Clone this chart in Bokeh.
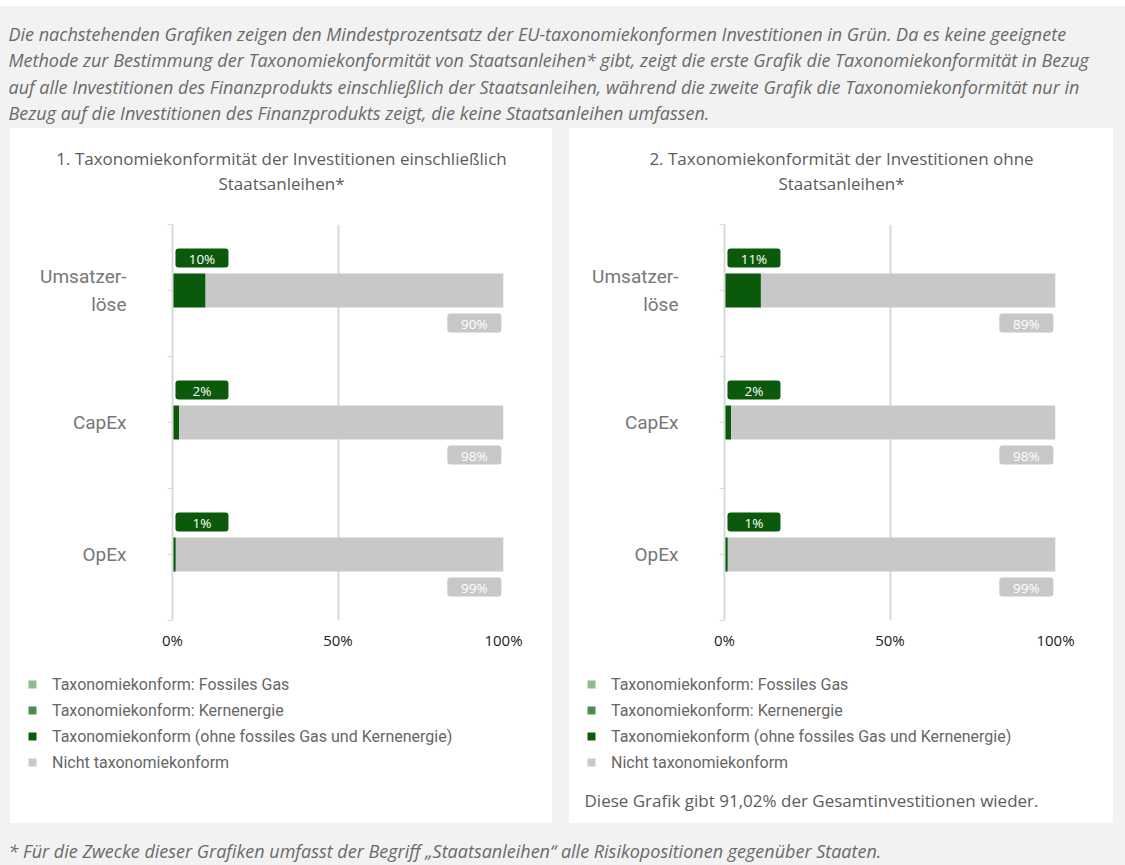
from bokeh.plotting import figure
from bokeh.models import (Range1d, FixedTicker, Label, Legend, LegendItem, ColumnDataSource, Spacer,
                          GlobalInlineStyleSheet)
from bokeh.layouts import column, row
from bokeh.embed import file_html
from bokeh.resources import INLINE
from bokeh.core.properties import value

# ---------------- data ----------------
categories = ["Umsatzerlöse", "CapEx", "OpEx"]
category_labels = ["Umsatzer-\nlöse", "CapEx", "OpEx"]

fossil_gas_1 = [0, 0, 0]
nuclear_1 = [0, 0, 0]
aligned_1 = [10, 2, 1]
not_aligned_1 = [90, 98, 99]

fossil_gas_2 = [0, 0, 0]
nuclear_2 = [0, 0, 0]
aligned_2 = [11, 2, 1]
not_aligned_2 = [89, 98, 99]

x_ticks = [0, 50, 100]
x_tick_labels = ["0%", "50%", "100%"]

legend_labels = [
    "Taxonomiekonform: Fossiles Gas",
    "Taxonomiekonform: Kernenergie",
    "Taxonomiekonform (ohne fossiles Gas und Kernenergie)",
    "Nicht taxonomiekonform",
]
title_1 = ["1. Taxonomiekonformität der Investitionen einschließlich", "Staatsanleihen*"]
title_2 = ["2. Taxonomiekonformität der Investitionen ohne", "Staatsanleihen*"]
coverage_note = "Diese Grafik gibt 91,02% der Gesamtinvestitionen wieder."

intro_lines = [
    "Die nachstehenden Grafiken zeigen den Mindestprozentsatz der EU-taxonomiekonformen Investitionen in Grün. Da es keine geeignete",
    "Methode zur Bestimmung der Taxonomiekonformität von Staatsanleihen* gibt, zeigt die erste Grafik die Taxonomiekonformität in Bezug",
    "auf alle Investitionen des Finanzprodukts einschließlich der Staatsanleihen, während die zweite Grafik die Taxonomiekonformität nur in",
    "Bezug auf die Investitionen des Finanzprodukts zeigt, die keine Staatsanleihen umfassen.",
]
footnote = "* Für die Zwecke dieser Grafiken umfasst der Begriff „Staatsanleihen“ alle Risikopositionen gegenüber Staaten."

# ---------------- style ----------------
FONT = "Roboto"
OFONT = "Open Sans"
GREEN = "#0b5a0b"
GAS = "#93b993"
NUC = "#4f8a4f"
GREY = "#c8c8c8"
BG = "#f2f2f2"
GRID = "#d9d9d9"

FRAME_W = 331
FRAME_H = 396
TITLE_H = 92
CHART_H = 448
LEGEND_H = 155
PANEL_W = [542, 544]
FRAME_LEFT = [162, 155]


def blank(width, height, fill):
    p = figure(width=width, height=height, output_backend="svg", toolbar_location=None,
               x_range=Range1d(0, 1), y_range=Range1d(0, 1), x_axis_location=None, y_axis_location=None,
               min_border=0, background_fill_color=fill, border_fill_color=fill, outline_line_color=None,
               styles={"background-color": fill})
    p.grid.visible = False
    return p


def text_label(p, x, y_from_top, text, size, color, align="left", style="normal", font=FONT):
    p.add_layout(Label(x=x, y=p.height - y_from_top, x_units="screen", y_units="screen", text=text,
                       text_align=align, text_baseline="middle", text_color=color,
                       text_font=font, text_font_size=size, text_font_style=style))


def make_title(title_lines, width):
    pt = blank(width, TITLE_H, "white")
    for i, line in enumerate(title_lines):
        text_label(pt, width / 2, 29.5 + 25 * i, line, "17px", "#5c5c5c", align="center", font=OFONT)
    return pt


def make_chart(gas, nuc, aligned, not_aligned, width, frame_left):
    n = len(categories)
    ys = [n - i - 0.5 for i in range(n)]
    p = figure(width=width, height=CHART_H, output_backend="svg", toolbar_location=None,
               x_range=Range1d(0, 100), y_range=Range1d(0, n),
               min_border_left=frame_left, min_border_right=width - frame_left - FRAME_W,
               min_border_top=4, min_border_bottom=CHART_H - 4 - FRAME_H,
               background_fill_color="white", border_fill_color="white", outline_line_color=None,
               styles={"background-color": "white"})
    p.xgrid.grid_line_color = GRID
    p.xgrid.grid_line_width = 2
    p.xgrid.ticker = FixedTicker(ticks=x_ticks)
    p.ygrid.visible = False

    xa = p.xaxis[0]
    xa.ticker = FixedTicker(ticks=x_ticks)
    xa.major_label_overrides = {t: l for t, l in zip(x_ticks, x_tick_labels)}
    xa.axis_line_color = None
    xa.major_tick_line_color = None
    xa.minor_tick_line_color = None
    xa.major_label_standoff = 3
    xa.major_label_text_font = OFONT
    xa.major_label_text_font_size = "15px"
    xa.major_label_text_color = "#222222"

    ya = p.yaxis[0]
    yticks = [i * 0.5 for i in range(2 * n + 1)]
    ya.ticker = FixedTicker(ticks=yticks)
    overrides = {t: "" for t in yticks}
    for y, lab in zip(ys, category_labels):
        overrides[y] = lab
    ya.major_label_overrides = overrides
    ya.major_label_standoff = 41
    ya.major_label_text_font = FONT
    ya.major_label_text_font_size = "19px"
    ya.major_label_text_color = "#777777"
    ya.major_label_text_line_height = 1.2
    ya.axis_line_color = GRID
    ya.axis_line_width = 2
    ya.major_tick_line_color = GRID
    ya.major_tick_out = 5
    ya.major_tick_in = 0
    ya.minor_tick_line_color = None

    cum1 = [a + b for a, b in zip(gas, nuc)]
    cum2 = [c + a for c, a in zip(cum1, aligned)]
    src = ColumnDataSource(dict(
        y=ys, gas=gas, cum1=cum1, cum2=cum2,
        total=[c + r for c, r in zip(cum2, not_aligned)],
        yt=[y + 0.246 for y in ys], yb=[y - 0.246 for y in ys],
        al_txt=[f"{v}%" for v in aligned], na_txt=[f"{v}%" for v in not_aligned],
    ))
    bh = 34 / (FRAME_H / n)
    p.hbar(y="y", left=0, right="gas", height=bh, source=src, fill_color=GAS, line_color=None)
    p.hbar(y="y", left="gas", right="cum1", height=bh, source=src, fill_color=NUC, line_color=None)
    p.hbar(y="y", left="cum1", right="cum2", height=bh, source=src, fill_color=GREEN, line_color=None)
    p.hbar(y="y", left="cum2", right="total", height=bh, source=src, fill_color=GREY, line_color=None)

    p.rect(x=8.9, y="yt", width=53, height=19, width_units="screen", height_units="screen",
           source=src, fill_color=GREEN, line_color=None, border_radius=3)
    p.text(x=8.9, y="yt", text="al_txt", source=src, text_align="center", text_baseline="middle",
           text_color="white", text_font=value(OFONT), text_font_size="13.5px", y_offset=1)
    p.rect(x=91.2, y="yb", width=54, height=19, width_units="screen", height_units="screen",
           source=src, fill_color=GREY, line_color=None, border_radius=3)
    p.text(x=91.2, y="yb", text="na_txt", source=src, text_align="center", text_baseline="middle",
           text_color="white", text_font=value(OFONT), text_font_size="13.5px", y_offset=1)
    return p


def make_legend(width, note=None):
    pl = blank(width, LEGEND_H, "white")
    colors = [GAS, NUC, GREEN, GREY]
    items = []
    for lab, c in zip(legend_labels, colors):
        r = pl.hbar(y=[0], left=[0], right=[0], height=0.5, fill_color=c, line_color=None)
        items.append(LegendItem(label=lab, renderers=[r]))
    legend = Legend(items=items, location=(17, LEGEND_H - 104), orientation="vertical",
                    glyph_width=10, glyph_height=10, label_height=20, spacing=6, padding=0, margin=0,
                    label_standoff=15, label_text_font=FONT, label_text_font_size="16px",
                    label_text_color="#666666", border_line_color=None, background_fill_alpha=0)
    pl.add_layout(legend)
    if note:
        text_label(pl, 15, 132, note, "17px", "#5c5c5c", font=OFONT)
    return pl


header = blank(1125, 122, BG)
for i, line in enumerate(intro_lines):
    text_label(header, 8, 27.5 + 26.3 * i, line, "18px", "#6a6a6a", style="italic", font=OFONT)

footer = blank(1125, 42, BG)
text_label(footer, 8, 27, footnote, "18px", "#6a6a6a", style="italic", font=OFONT)

titles = [make_title(title_1, PANEL_W[0]), make_title(title_2, PANEL_W[1])]
charts = [make_chart(fossil_gas_1, nuclear_1, aligned_1, not_aligned_1, PANEL_W[0], FRAME_LEFT[0]),
          make_chart(fossil_gas_2, nuclear_2, aligned_2, not_aligned_2, PANEL_W[1], FRAME_LEFT[1])]
legends = [make_legend(PANEL_W[0]), make_legend(PANEL_W[1], coverage_note)]


def band(a, b, h):
    return row(Spacer(width=10, height=h), a, Spacer(width=17, height=h), b, Spacer(width=12, height=h))


page_css = GlobalInlineStyleSheet(css="html{background:#ffffff;} body{margin:6px 0 0 0; background:%s;}" % BG)

layout = column(header,
                band(titles[0], titles[1], TITLE_H),
                band(charts[0], charts[1], CHART_H),
                band(legends[0], legends[1], LEGEND_H),
                footer,
                styles={"background-color": BG}, stylesheets=[page_css])

open("out.html", "w").write(file_html(layout, INLINE))
